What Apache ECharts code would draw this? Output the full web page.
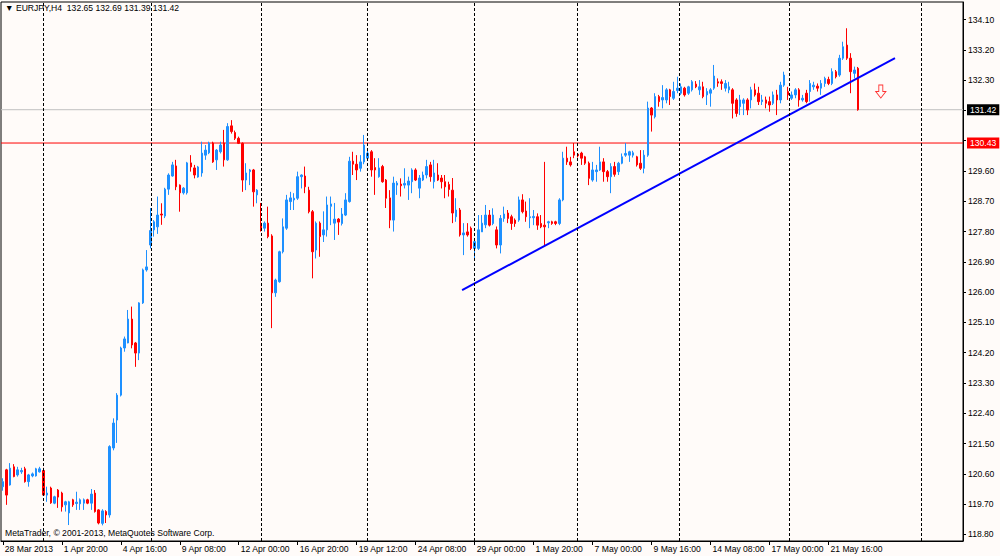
<!DOCTYPE html>
<html>
<head>
<meta charset="utf-8">
<script src="https://cdn.jsdelivr.net/npm/echarts@6/dist/echarts.min.js"></script>
<style>html,body{margin:0;padding:0;background:#FFFBF9;}#c{width:1000px;height:556px;}</style>
</head>
<body>
<div id="c"></div>
<script>
// ---- data (EURJPY H4) ----
const opens = [120.22,120.72,120.27,120.81,120.57,120.66,120.75,120.37,120.54,120.54,120.66,120.70,119.97,120.18,119.73,120.12,120.03,119.68,119.44,119.83,119.72,119.71,119.73,119.83,119.73,120.03,119.53,119.13,119.48,119.38,
121.37,122.20,122.94,124.34,124.49,125.20,124.49,124.19,125.68,126.66,127.40,127.85,127.94,128.32,128.26,129.06,129.45,129.75,129.18,128.95,128.95,129.84,129.69,129.42,129.54,130.07,130.14,130.43,129.93,130.17,
130.43,129.93,130.94,130.74,130.57,130.42,129.33,129.58,129.63,128.89,128.05,127.90,128.05,127.67,125.98,126.31,127.20,127.90,128.69,128.74,128.79,129.43,129.45,129.03,128.39,127.25,128.05,127.70,127.85,128.55,
128.05,128.17,128.04,128.29,128.69,129.89,129.80,129.68,129.87,129.98,130.17,129.70,129.43,129.73,129.33,128.80,128.14,129.18,129.21,129.18,129.18,129.28,129.63,129.09,129.33,129.48,129.78,129.28,129.48,129.39,
129.28,129.20,129.03,128.24,128.44,127.70,127.79,127.90,127.30,127.30,127.79,128.00,128.29,128.04,127.85,127.40,128.19,128.35,128.24,128.14,128.14,128.74,128.41,128.21,128.21,128.24,128.04,127.99,128.06,128.09,
128.09,128.04,128.74,129.98,129.87,130.17,130.10,130.13,130.02,129.83,129.33,129.58,129.63,129.87,129.58,129.43,129.73,129.58,129.83,130.07,130.07,130.07,130.02,129.83,129.68,130.07,131.47,131.21,131.81,131.71,
131.71,132.01,131.76,131.99,131.91,132.06,131.91,132.01,132.18,132.01,132.10,131.86,131.91,132.06,132.25,132.25,132.06,132.01,132.01,131.71,131.51,131.61,131.71,131.71,132.01,131.91,131.66,131.71,131.66,131.61,
131.86,131.71,132.15,131.96,131.76,131.86,132.01,131.71,131.91,131.96,132.10,132.12,132.06,132.20,132.32,132.20,132.55,132.45,132.95,133.34,132.95,132.50,132.65];
const highs = [120.47,120.75,120.92,120.89,120.81,120.78,120.81,120.60,120.64,120.78,120.81,120.78,120.22,120.22,119.95,120.15,120.07,119.80,119.80,119.86,120.07,119.87,119.87,119.86,120.15,120.12,119.55,119.55,119.52,121.45,
122.25,123.00,124.38,124.68,125.47,125.57,124.52,125.70,126.70,127.25,128.50,128.14,128.84,128.64,129.10,129.53,129.87,129.93,129.20,129.12,129.87,130.07,129.78,129.75,130.47,130.37,130.47,130.47,130.25,130.47,
130.82,131.02,131.11,130.80,130.62,130.45,129.83,129.66,129.66,129.06,128.65,128.10,128.54,127.72,126.40,127.23,128.19,128.89,128.98,128.94,129.58,129.50,129.73,129.13,128.44,128.10,128.10,128.40,128.84,128.84,
128.65,128.20,128.50,128.94,130.02,130.17,130.07,130.07,130.67,130.22,130.22,129.98,129.98,129.78,129.36,129.03,129.43,129.30,129.38,129.68,129.43,129.68,129.68,129.48,129.58,129.93,129.87,129.93,129.83,129.48,
129.48,129.28,129.39,128.79,128.50,128.05,128.05,127.95,127.55,128.29,128.29,128.59,128.44,128.49,127.95,128.29,128.54,128.44,128.30,128.19,128.84,128.91,128.69,128.79,128.44,128.34,128.29,129.87,128.12,128.12,
128.12,128.79,130.17,130.32,130.02,130.43,130.12,130.17,130.05,129.88,129.87,129.78,130.32,129.98,129.63,129.83,129.87,129.87,130.12,130.43,130.20,130.20,130.05,130.22,130.22,131.66,131.50,131.91,131.86,132.15,
132.06,132.04,132.25,132.40,132.20,132.10,132.13,132.30,132.27,132.30,132.25,132.06,132.06,132.75,132.35,132.32,132.30,132.25,132.06,131.76,131.86,131.76,131.76,132.10,132.20,132.10,131.86,131.81,131.81,131.96,
132.01,132.25,132.55,132.10,131.96,132.06,132.06,131.86,132.01,132.30,132.25,132.20,132.30,132.40,132.40,132.65,132.60,133.05,133.44,133.84,133.10,132.70,132.69];
const lows = [120.10,119.68,120.25,120.50,120.52,120.60,120.34,120.22,120.50,120.52,120.64,119.95,119.77,119.71,119.70,119.59,119.48,119.48,119.08,119.62,119.53,119.53,119.53,119.70,119.53,119.45,119.10,119.07,119.14,119.30,
121.30,121.52,122.90,124.23,124.48,124.33,123.78,123.98,125.65,126.61,127.30,127.65,127.73,128.00,128.20,128.89,129.43,129.03,128.39,128.90,128.90,129.58,129.38,129.40,129.43,129.93,130.10,129.84,129.63,130.12,
129.73,129.90,130.71,130.52,130.40,128.98,129.03,129.18,128.54,128.64,127.80,127.80,127.60,124.93,125.86,126.28,127.15,127.85,128.44,128.44,128.74,129.08,128.94,128.34,126.41,127.00,127.05,127.49,127.65,127.99,
127.55,127.70,127.98,128.26,128.66,129.48,129.33,129.58,129.80,129.93,129.43,128.89,129.40,129.25,128.50,127.90,127.80,128.89,128.84,129.08,128.74,128.94,129.30,128.79,129.30,129.38,129.28,129.08,129.30,129.08,
128.79,128.84,128.05,128.09,127.65,127.10,127.65,127.25,127.01,127.25,127.79,127.90,127.95,127.99,127.30,127.15,128.09,128.05,127.85,127.94,128.09,128.34,128.09,127.90,127.99,127.85,127.90,127.40,127.90,128.00,
127.99,127.99,128.70,129.78,129.73,129.98,130.00,129.78,129.78,129.18,129.28,129.28,129.60,129.28,129.28,128.94,129.43,129.48,129.80,130.02,129.87,130.00,129.73,129.63,129.53,130.02,130.77,131.16,131.51,131.46,
131.61,131.56,131.71,131.91,131.86,131.81,131.86,131.96,132.06,131.86,131.76,131.56,131.51,132.01,132.10,132.01,131.96,131.91,131.16,131.21,131.26,131.26,131.26,131.46,131.81,131.56,131.56,131.46,131.36,131.56,
131.26,131.61,132.10,131.71,131.71,131.76,131.51,131.66,131.61,131.66,132.01,131.96,131.86,132.10,132.15,132.15,132.35,132.40,132.90,132.90,131.91,132.35,131.39];
const closes = [120.37,119.97,120.77,120.52,120.72,120.70,120.37,120.57,120.60,120.75,120.75,119.97,120.03,119.74,119.92,119.91,119.62,119.77,119.77,119.68,119.76,119.83,119.83,119.73,120.00,119.48,119.14,119.50,119.38,121.41,
122.11,122.94,124.34,124.61,125.20,124.43,124.19,125.68,126.66,126.75,127.83,128.09,128.29,128.29,129.06,129.48,129.78,129.13,128.95,129.09,129.84,129.72,129.48,129.72,130.13,130.22,130.43,129.87,130.22,130.37,
129.93,130.92,130.77,130.57,130.42,129.33,129.54,129.63,128.98,129.03,127.90,128.05,127.65,125.98,126.36,127.20,127.94,128.74,128.80,128.79,129.43,129.48,129.13,128.39,127.20,128.05,127.65,127.85,128.59,128.62,
128.17,128.08,128.32,128.74,129.89,129.80,129.63,129.87,130.37,130.13,129.63,129.63,129.69,129.28,128.79,128.14,129.24,129.24,129.16,129.23,129.30,129.63,129.33,129.39,129.48,129.73,129.43,129.54,129.33,129.28,
129.13,129.05,128.35,128.44,127.70,127.76,127.70,127.30,127.50,127.85,128.05,128.29,127.99,128.29,127.40,128.19,128.32,128.19,128.04,128.04,128.74,128.39,128.24,128.24,128.25,127.99,127.94,127.94,128.09,128.04,
128.04,128.74,129.98,129.87,129.78,130.07,130.05,129.98,129.83,129.38,129.63,129.63,129.87,129.58,129.43,129.73,129.50,129.83,130.02,130.12,130.17,130.14,129.78,129.68,130.07,131.47,131.26,131.81,131.66,131.78,
132.01,131.81,131.96,132.06,132.10,131.86,132.10,132.25,132.10,132.10,131.81,131.96,132.01,132.42,132.21,132.20,132.20,132.10,131.61,131.31,131.71,131.71,131.41,132.01,131.86,131.66,131.71,131.61,131.56,131.86,
131.71,132.15,132.45,131.86,131.86,132.01,131.71,131.76,131.66,132.20,132.15,132.06,132.20,132.35,132.20,132.55,132.40,132.95,133.29,132.95,132.55,132.60,131.42];

const xTickLabels = ['28 Mar 2013','1 Apr 20:00','4 Apr 16:00','9 Apr 08:00','12 Apr 00:00','16 Apr 20:00','19 Apr 12:00','24 Apr 08:00','29 Apr 00:00','1 May 20:00','7 May 00:00','9 May 16:00','14 May 08:00','17 May 00:00','21 May 16:00'];
const yTicks = [134.10,133.20,132.30,131.40,130.50,129.60,128.70,127.80,126.90,126.00,125.10,124.20,123.30,122.40,121.50,120.60,119.70,118.80];
const yTickLabels = ['134.10','133.20','132.30','','','129.60','128.70','127.80','126.90','126.00','125.10','124.20','123.30','122.40','121.50','120.60','119.70','118.80'];
const weekSeparators = [10.9, 40.2, 70.0, 99.0, 127.8, 155.8, 183.5, 213.3, 249.1];
const trendLine = [[124.6, 126.06], [242.05, 132.95]];
const bidPrice = 131.42;
const hLinePrice = 130.43;
const arrowPoint = [[238.2, 131.96]];
const titleText = '\u25BC EURJPY,H4  132.65 132.69 131.39 131.42';
const copyrightText = 'MetaTrader, \u00A9 2001-2013, MetaQuotes Software Corp.';
const TICK_EVERY = 16;
const N_SLOTS = 261;

// ---- build ----
const slots = Array.from({length: N_SLOTS}, (_, i) => String(i));
const candles = opens.map((o, i) => [o, closes[i], lows[i], highs[i]]);
const FONT = 'Liberation Sans';
const showTick = (i) => i % TICK_EVERY === 0 && i / TICK_EVERY < xTickLabels.length;

function priceLine(price, lineColor, boxColor) {
  return {
    type: 'line', xAxisIndex: 1, silent: true, symbol: 'none', z: 1,
    data: [[-0.5, price], [N_SLOTS - 0.5, price]],
    color: lineColor,
    lineStyle: {color: lineColor, width: 1, type: 'solid'},
    endLabel: {show: true, distance: 4, formatter: () => price.toFixed(2), color: '#fff',
      backgroundColor: boxColor, fontSize: 8.6, fontFamily: FONT, padding: [1, 3, 1, 3]}
  };
}

const chart = echarts.init(document.getElementById('c'), null, {renderer: 'svg'});
chart.setOption({
  animation: false,
  backgroundColor: '#FFFBF9',
  textStyle: {fontFamily: FONT},
  grid: {left: 1, right: 37, top: 2, bottom: 15, show: true, borderColor: '#000', borderWidth: 1},
  xAxis: [{
    type: 'category', data: slots, boundaryGap: true,
    axisLine: {onZero: false, lineStyle: {color: '#000', width: 1}},
    axisTick: {show: true, alignWithLabel: true, interval: showTick, length: 4, lineStyle: {color: '#000'}},
    axisLabel: {interval: showTick, formatter: (v, i) => xTickLabels[i / TICK_EVERY] || '', align: 'left',
      margin: 3, fontSize: 8.6, color: '#000', fontFamily: FONT, padding: [0, 0, 0, 2]},
    splitLine: {show: false}
  }, {
    type: 'value', min: -0.5, max: N_SLOTS - 0.5, show: false,
    axisLine: {show: false, onZero: false}, splitLine: {show: false}
  }],
  yAxis: {
    type: 'value', position: 'right', scale: true, min: 118.606, max: 134.62,
    axisLine: {show: true, onZero: false, lineStyle: {color: '#000'}},
    axisTick: {show: true, customValues: yTicks, length: 3, lineStyle: {color: '#000'}},
    axisLabel: {customValues: yTicks, formatter: (v) => { const k = yTicks.findIndex(t => Math.abs(t - v) < 1e-6); return k >= 0 ? yTickLabels[k] : ''; },
      margin: 5, fontSize: 8.6, color: '#000', fontFamily: FONT},
    splitLine: {show: false}
  },
  graphic: [
    {type: 'text', left: 5, top: 3, style: {text: titleText, font: '8.6px "Liberation Sans"', fill: '#000'}},
    {type: 'text', left: 5, top: 528, style: {text: copyrightText, font: '8.6px "Liberation Sans"', fill: '#000'}}
  ],
  series: [
    priceLine(bidPrice, '#C0C0C0', '#000000'),
    priceLine(hLinePrice, '#FF0000', '#FF0000'),
  {
    type: 'line', xAxisIndex: 1, data: [], silent: true, symbol: 'none',
    markLine: {
      silent: true, symbol: ['none', 'none'], animation: false, label: {show: false},
      lineStyle: {color: '#000', width: 1, type: [3, 2]},
      data: weekSeparators.map(v => ({xAxis: v}))
    }
  }, {
    type: 'candlestick', xAxisIndex: 0, data: candles, barWidth: 2,
    itemStyle: {color: '#1E90FF', color0: '#FF0000', borderColor: '#1E90FF', borderColor0: '#FF0000', borderColorDoji: '#1E90FF', borderWidth: 1}
  }, {
    type: 'line', xAxisIndex: 1, data: trendLine, symbol: 'none', silent: true,
    lineStyle: {color: '#0000FF', width: 2}
  }, {
    type: 'scatter', xAxisIndex: 1, data: arrowPoint, silent: true,
    symbol: 'path://M3,0 L7,0 L7,6 L10,6 L5,12 L0,6 L3,6 Z', symbolSize: [10, 13],
    itemStyle: {color: 'rgba(255,255,255,0)', borderColor: '#FF0000', borderWidth: 1}
  }]
});
</script>
</body>
</html>
